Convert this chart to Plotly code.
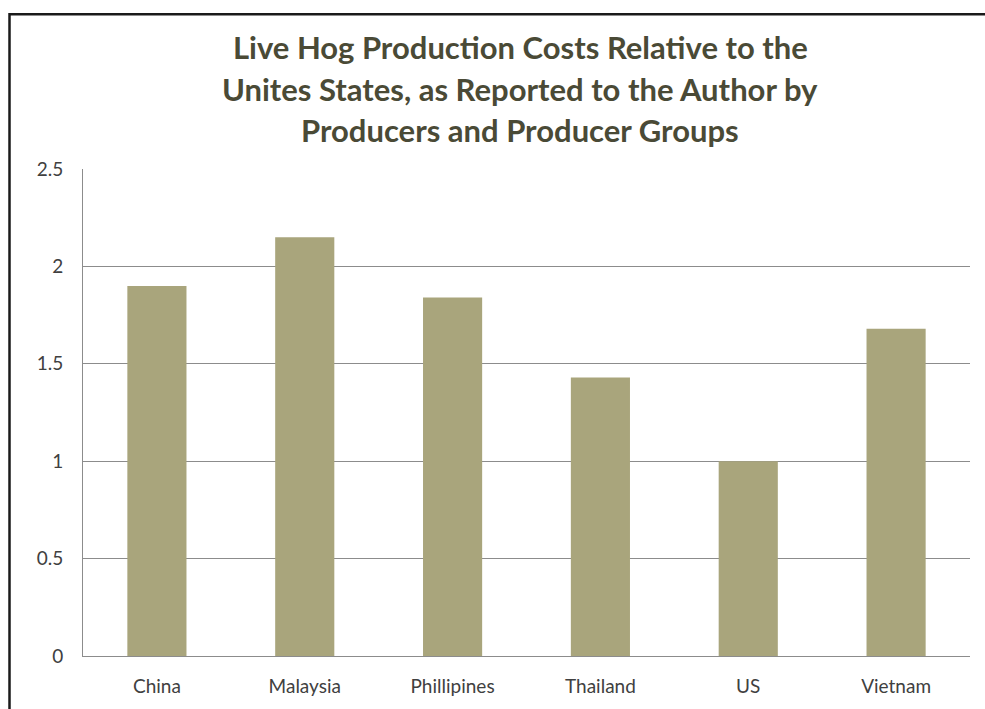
import plotly.graph_objects as go

categories = ["China", "Malaysia", "Phillipines", "Thailand", "US", "Vietnam"]
values = [1.9, 2.15, 1.84, 1.43, 1.0, 1.68]
title_lines = [
    "Live Hog Production Costs Relative to the",
    "Unites States, as Reported to the Author by",
    "Producers and Producer Groups",
]
y_ticks = [0, 0.5, 1, 1.5, 2, 2.5]
y_tick_labels = ["0", "0.5", "1", "1.5", "2", "2.5"]

W, H = 985, 709
L, R, T, B = 83, 15, 169, 51
pw, ph = W - L - R, H - T - B

def px_x(px):
    return (px - L) / pw

def px_y(py):
    return (H - B - py) / ph

fig = go.Figure(
    go.Bar(
        x=categories,
        y=values,
        marker=dict(color="#A9A57C", line=dict(width=0)),
    )
)

annotations = []
for i, line in enumerate(title_lines):
    annotations.append(dict(
        text=f"<b>{line}</b>", x=px_x(520), y=px_y(47 + 41.5 * i),
        xref="paper", yref="paper", showarrow=False,
        xanchor="center", yanchor="middle",
        font=dict(family="Lato", size=31, color="#4A4A36"),
    ))

shapes = [
    dict(type="rect", xref="paper", yref="paper",
         x0=px_x(9.5), x1=px_x(1000), y0=px_y(730), y1=px_y(13.5),
         line=dict(color="#1a1a1a", width=2.5), fillcolor="rgba(0,0,0,0)", layer="above"),
]

fig.update_layout(
    width=W, height=H,
    margin=dict(l=L, r=R, t=T, b=B),
    paper_bgcolor="white", plot_bgcolor="white",
    bargap=0.6,
    showlegend=False,
    annotations=annotations,
    shapes=shapes,
    font=dict(family="Lato", size=19, color="#404040"),
    xaxis=dict(
        showline=True, linecolor="#8C8C8C", linewidth=1,
        showgrid=False, ticks="", ticklabelstandoff=13,
        tickfont=dict(size=19, color="#404040"),
    ),
    yaxis=dict(
        range=[0, 2.5], tickvals=y_ticks, ticktext=y_tick_labels,
        showline=True, linecolor="#8C8C8C", linewidth=1,
        showgrid=True, gridcolor="#8C8C8C", gridwidth=1,
        zeroline=False, ticks="", ticklabelstandoff=15,
        tickfont=dict(size=19, color="#404040"),
    ),
)

fig.write_html("out.html")
